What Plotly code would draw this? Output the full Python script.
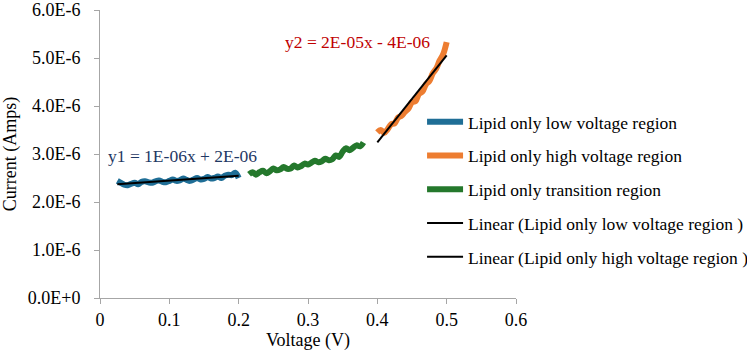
import numpy as np
import plotly.graph_objects as go

# ---- data (Current in Amps vs Voltage in V) ----
low_x = [0.025, 0.030, 0.035, 0.040, 0.045, 0.050, 0.055, 0.060, 0.065, 0.070, 0.075, 0.080,
         0.085, 0.090, 0.095, 0.100, 0.105, 0.110, 0.115, 0.120, 0.125, 0.130, 0.135, 0.140,
         0.145, 0.150, 0.155, 0.160, 0.165, 0.170, 0.175, 0.180, 0.185, 0.190, 0.195, 0.200]
low_y = [2.44, 2.40, 2.36, 2.35, 2.38, 2.40, 2.37, 2.42, 2.43, 2.41, 2.40, 2.43,
         2.45, 2.42, 2.41, 2.44, 2.47, 2.44, 2.45, 2.49, 2.46, 2.44, 2.47, 2.50,
         2.47, 2.48, 2.52, 2.49, 2.50, 2.53, 2.50, 2.55, 2.57, 2.56, 2.61, 2.50]

trans_x = [0.215, 0.220, 0.225, 0.230, 0.235, 0.240, 0.245, 0.250, 0.255, 0.260, 0.265, 0.270,
           0.275, 0.280, 0.285, 0.290, 0.295, 0.300, 0.305, 0.310, 0.315, 0.320, 0.325, 0.330,
           0.335, 0.340, 0.345, 0.350, 0.355, 0.360, 0.365, 0.370, 0.375, 0.380]
trans_y = [2.58, 2.62, 2.57, 2.62, 2.65, 2.60, 2.64, 2.70, 2.66, 2.68, 2.73, 2.69,
           2.70, 2.76, 2.72, 2.75, 2.80, 2.78, 2.82, 2.86, 2.83, 2.85, 2.90, 2.87,
           2.89, 2.97, 2.94, 3.05, 3.12, 3.08, 3.13, 3.18, 3.16, 3.24]

high_x = [0.400, 0.405, 0.410, 0.415, 0.420, 0.425, 0.430, 0.435, 0.440, 0.445, 0.450,
          0.455, 0.460, 0.465, 0.470, 0.475, 0.480, 0.485, 0.490, 0.495, 0.500]
high_y = [3.45, 3.50, 3.44, 3.52, 3.62, 3.64, 3.76, 3.80, 3.88, 3.95, 4.08,
          4.10, 4.25, 4.30, 4.45, 4.52, 4.68, 4.78, 4.95, 5.08, 5.33]

y_tick_vals = [0, 1, 2, 3, 4, 5, 6]
y_tick_text = ["0.0E+0", "1.0E-6", "2.0E-6", "3.0E-6", "4.0E-6", "5.0E-6", "6.0E-6"]
x_tick_vals = [0, 0.1, 0.2, 0.3, 0.4, 0.5, 0.6]
x_tick_text = ["0", "0.1", "0.2", "0.3", "0.4", "0.5", "0.6"]

eq1_text = "y1 = 1E-06x + 2E-06"
eq2_text = "y2 = 2E-05x - 4E-06"

SCALE = 1e-6
lx = np.array(low_x); ly = np.array(low_y) * SCALE
tx = np.array(trans_x); ty = np.array(trans_y) * SCALE
hx = np.array(high_x); hy = np.array(high_y) * SCALE

p_low = np.polyfit(lx, ly, 1)
p_high = np.polyfit(hx, hy, 1)

FONT = "Liberation Serif, Times New Roman, serif"
BLUE = "#1F6E96"
ORANGE = "#ED7D31"
GREEN = "#24782C"
FS = 18

fig = go.Figure()
fig.add_trace(go.Scatter(x=lx, y=ly, mode="lines", name="Lipid only low voltage region",
                         line=dict(color=BLUE, width=6, shape="spline"), legendgroup="a"))
fig.add_trace(go.Scatter(x=hx, y=hy, mode="lines", name="Lipid only high voltage region",
                         line=dict(color=ORANGE, width=6, shape="spline"), legendgroup="b"))
fig.add_trace(go.Scatter(x=tx, y=ty, mode="lines", name="Lipid only transition region",
                         line=dict(color=GREEN, width=6, shape="spline"), legendgroup="c"))
fit_lx = np.array([lx.min(), lx.max()])
fig.add_trace(go.Scatter(x=fit_lx, y=np.polyval(p_low, fit_lx), mode="lines",
                         name="Linear (Lipid only low voltage region )",
                         line=dict(color="black", width=2), legendgroup="d"))
fit_hx = np.array([hx.min(), hx.max()])
fig.add_trace(go.Scatter(x=fit_hx, y=np.polyval(p_high, fit_hx), mode="lines",
                         name="Linear (Lipid only high voltage region )",
                         line=dict(color="black", width=2), legendgroup="e"))

fig.add_annotation(x=0.1197, y=2.96e-6, text=eq1_text, showarrow=False,
                   font=dict(family=FONT, size=17.5, color="#1F3864"))
fig.add_annotation(x=0.371, y=5.34e-6, text=eq2_text, showarrow=False,
                   font=dict(family=FONT, size=17.5, color="#C00000"))

axis_common = dict(showgrid=False, zeroline=False, showline=True, linecolor="#A6A6A6",
                   linewidth=1, ticks="outside", ticklen=5, tickcolor="#A6A6A6",
                   ticklabeloverflow="allow",
                   tickfont=dict(family=FONT, size=FS, color="black"))
fig.update_xaxes(range=[0, 0.6], tickvals=x_tick_vals, ticktext=x_tick_text,
                 ticklabelstandoff=0,
                 title=dict(text="Voltage (V)", font=dict(family=FONT, size=FS, color="black"),
                            standoff=1), **axis_common)
fig.update_yaxes(range=[0, 6e-6], tickvals=[v * SCALE for v in y_tick_vals], ticktext=y_tick_text,
                 ticklabelstandoff=10,
                 title=dict(text="Current (Amps)", font=dict(family=FONT, size=FS, color="black"),
                            standoff=8), **axis_common)

fig.update_layout(
    width=747, height=357,
    margin=dict(l=100, r=231, t=10, b=59, autoexpand=False),
    paper_bgcolor="white", plot_bgcolor="white",
    font=dict(family=FONT, size=FS, color="black"),
    showlegend=True,
    legend=dict(x=0.565, y=0.709, xanchor="left", yanchor="top", xref="container", yref="container",
                font=dict(family=FONT, size=17.5, color="black"), tracegroupgap=8,
                bgcolor="rgba(0,0,0,0)", itemwidth=36),
)

fig.write_html("out.html")
